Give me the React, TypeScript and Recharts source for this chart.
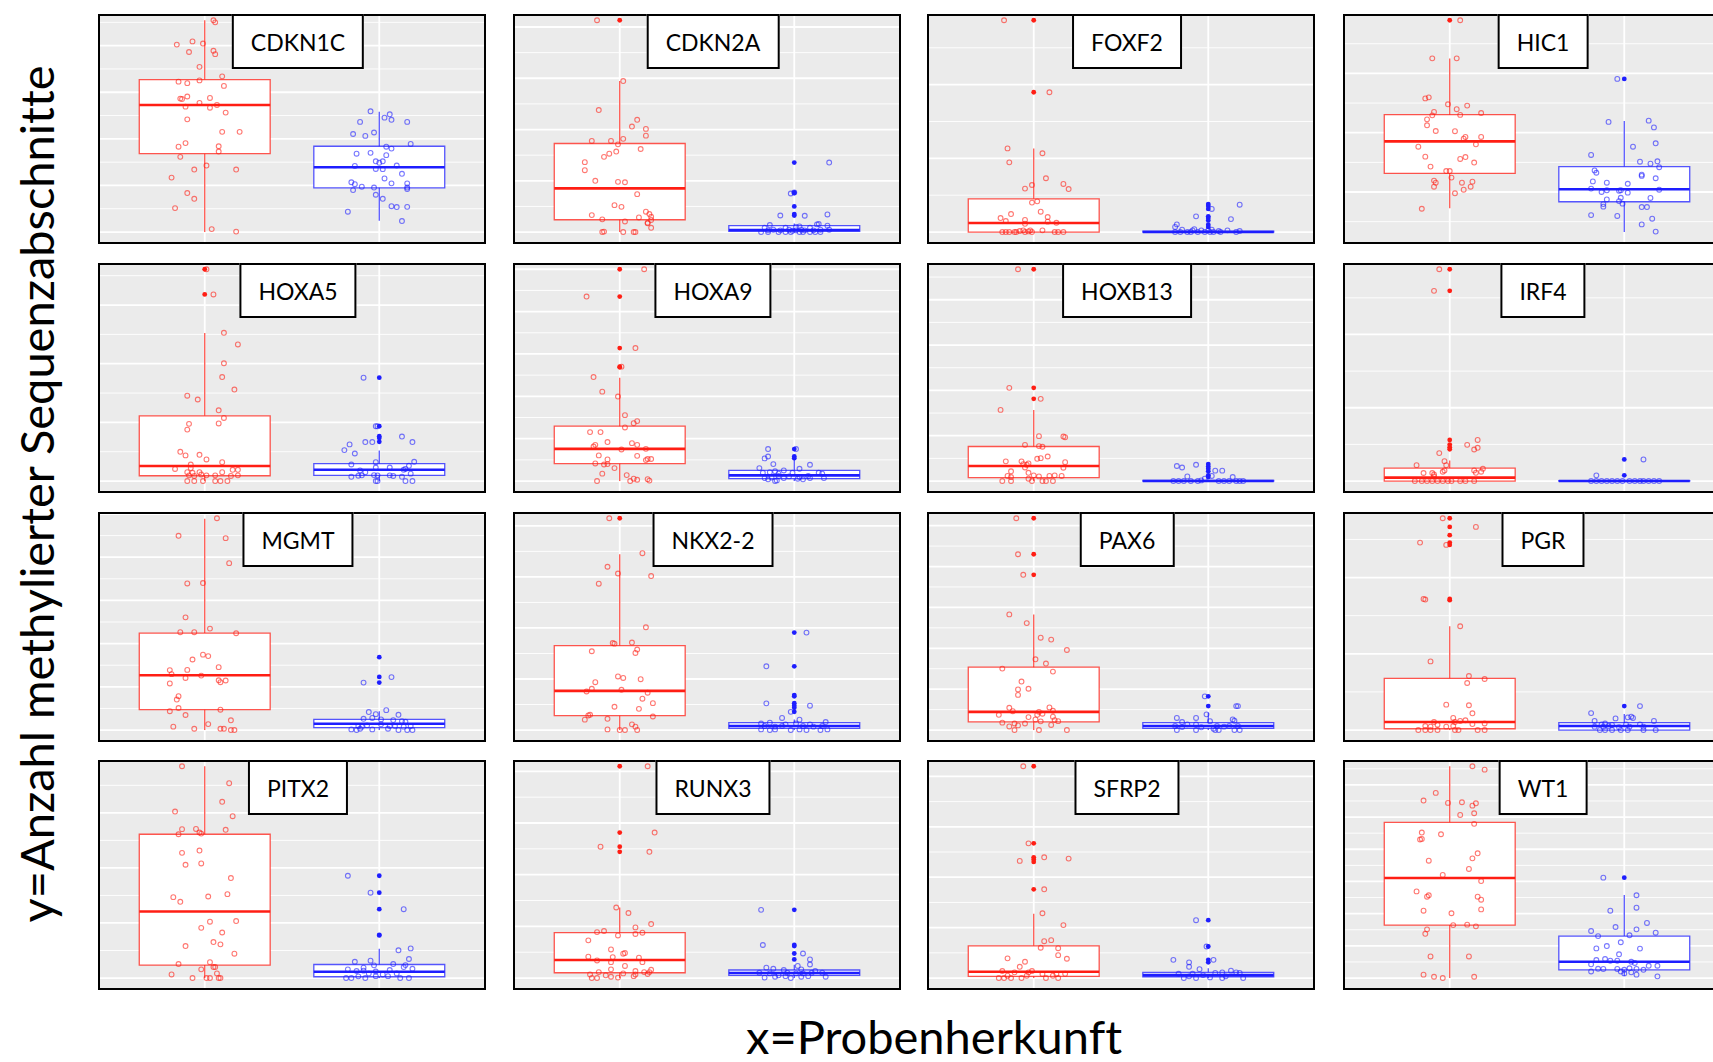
import {
  ComposedChart,
  XAxis,
  YAxis,
  CartesianGrid,
  Scatter,
  ReferenceArea,
  ReferenceLine,
} from 'recharts'

// [jitter offset in 1/100 of a category, value on the panel's own 0..100 scale]
type Pt = [number, number]
// [lower whisker, q1, median, q3, upper whisker]
type Box = [number, number, number, number, number]

const cdkn1cRed: Pt[] = [[5,100],[6,99],[-16,88.5],[-7,90],[-1,89],[-9,85],[5,85.6],[6,84],[-3,78],[10,73.5],[-15,71],[-10,70.3],[-3,71.6],[11,69],[-14,63],[-13,62.8],[-10,64],[-3,61],[3,63.3],[7,60],[3,58.7],[-11,59.2],[12,56.4],[-10,53.2],[10,47.3],[20,47.3],[-15,40.3],[-11,42],[8,40.5],[8,38],[-14,35.5],[1,31.4],[-6,29.5],[18,29.5],[-19,25.7],[-10,18.4],[-6,15.7],[-17,11.3],[4,1.4],[18,0.2]]
const cdkn1cBlue: Pt[] = [[-5,57],[3,54],[6,55.6],[7,53],[-11,52],[16,52],[-15,46.3],[-8,45.4],[-3,47],[18,41.6],[4,40.3],[7,39.4],[-13,37],[-5,37.4],[4,36.3],[-2,33.4],[0,32.7],[2,33.4],[-14,31.2],[10,31.4],[-2,29.8],[2,29.7],[13,27.5],[3,25.3],[-16,23.5],[-14,22.6],[7,23],[16,23],[-10,21.4],[-3,21],[-15,19.8],[16,21],[16,20.3],[-2,17.6],[2,15.7],[7,12.2],[10,11.8],[16,11.9],[-18,9.6],[13,5.2]]
const cdkn1cBox: Box[] = [[0,37,60,72,100],[5.3,20.9,30.6,40.5,56.8]]
const cdkn1cOut: number[][] = [[],[]]
const cdkn1cGrid = [0, 22]

const cdkn2aRed: Pt[] = [[-13,100],[2,71.3],[-12,57.6],[10,53],[7,49.8],[15,48.7],[15,45.5],[-16,43],[-5,43],[2,44],[-1,41.4],[12,39.2],[-2,38],[-6,37],[-9,35.5],[-20,33],[-20,29.2],[-14,24.2],[-1,23.7],[3,23.5],[10,17.9],[-3,12.7],[1,11.9],[15,9.6],[17,8.5],[18,7.2],[-16,8],[11,6.9],[-10,6],[18,5.7],[3,5],[16,4.4],[16,4.1],[18,2],[-9,0.2],[-10,0],[2,0],[8,0],[9,0]]
const cdkn2aBlue: Pt[] = [[20,32.8],[-2,18.2],[0,18.7],[-8,7.8],[6,7.7],[19,8.3],[-14,3.3],[13,3.6],[14,3.8],[19,3],[-17,2],[-5,2],[1,2.4],[3,2.7],[9,2],[-15,0.8],[-12,1.1],[-8,0.8],[-3,1.1],[-1,0.6],[1,0.8],[4,1.1],[6,0.8],[11,0.8],[15,1.1],[20,1.1],[-19,0],[-15,0],[-9,0],[-5,0],[-2,0],[3,0],[5,0],[9,0],[12,0],[15,0]]
const cdkn2aBox: Box[] = [[0,5.8,20.6,41.8,71.3],[0,0.3,1,3,4]]
const cdkn2aOut: number[][] = [[100],[32.8,18.7,18.4,12.1,8.5,7.8]]
const cdkn2aGrid = [0, 24.2]

const foxf2Red: Pt[] = [[-17,100],[9,66],[-15,39.5],[5,37.2],[-14,32.9],[7,25.4],[-1,22.2],[-5,20.5],[17,22.7],[20,20.3],[2,14.5],[-1,13.9],[4,9.6],[-13,8.5],[-19,6.6],[-16,5.2],[-5,5.7],[8,7.1],[-5,3.9],[8,4.9],[13,4.4],[5,0.8],[-18,0],[-16,0],[-14,0],[-11,0],[-10,0],[-8,0.5],[-6,0.8],[-5,0],[-3,0.3],[-2,0.8],[12,0],[14,0],[17,0],[-1,0]]
const foxf2Blue: Pt[] = [[18,12.9],[2,10.9],[-7,7.4],[13,6.1],[-18,3.6],[-19,2.4],[-15,1.1],[-8,1.4],[-9,0.8],[-4,0.8],[0,0.8],[2,1.1],[6,0.5],[11,0.8],[18,0.5],[-19,0],[-16,0],[-12,0],[-10,0],[-6,0],[-2,0],[1,0],[3,0],[7,0],[16,0]]
const foxf2Box: Box[] = [[0,0,4.3,15.7,39.4],[0,0,0,0.4,0.4]]
const foxf2Out: number[][] = [[100,66],[13.2,12.3,10.9,7.4,6.6,5.5,3.5,2.4]]
const foxf2Grid = [0, 34.8]

const hic1Red: Pt[] = [[6,100],[-10,82],[4,82],[-14,63.1],[-12,63.6],[-1,60.3],[4,58],[10,59.7],[-9,56.7],[-10,55.1],[-13,53.2],[18,56.2],[6,55.3],[-13,50.4],[-8,47.7],[3,47.6],[9,44.9],[8,44.1],[18,44.9],[-18,40.3],[15,41.4],[-14,35.6],[9,35.4],[6,34.5],[14,32.8],[-11,30.9],[-2,28.8],[0,28.8],[1,25.7],[-9,24.3],[-8,23.3],[7,23.3],[13,23.8],[-9,21.4],[12,21.4],[8,20],[3,18.3],[-16,11]]
const hic1Blue: Pt[] = [[-4,72.3],[-9,52],[14,52.6],[17,49.4],[5,40.3],[18,41.9],[-19,36.4],[9,33.2],[15,32.3],[19,33.4],[20,30.6],[-17,29.1],[-16,28],[10,27.1],[10,26.5],[18,25.4],[-18,23.9],[-10,23.3],[2,22.8],[-19,20.5],[-13,18.9],[-10,19.7],[-3,19.5],[-2,19.7],[2,18.6],[20,20],[-10,15.4],[-2,16.2],[-3,14.6],[-1,13.4],[-12,13.2],[-12,12],[15,16.1],[10,11.8],[13,11.8],[-19,8],[-4,7.6],[16,6.3],[10,3.6],[18,0.2]]
const hic1Box: Box[] = [[11.2,27.7,42.8,55.4,81.9],[0,14.3,20.2,30.9,52.4]]
const hic1Out: number[][] = [[100],[72.3]]
const hic1Grid = [18.9, 28]

const hoxa5Red: Pt[] = [[1,100],[5,88.1],[11,70],[19,64.5],[11,55.6],[10,49.1],[17,43.2],[-10,40.3],[-4,38.5],[8,33.4],[11,29.8],[-9,27],[8,27.2],[-10,24.3],[-14,13.8],[-11,12.1],[-3,12.4],[1,10.2],[10,8.9],[-8,7.8],[-17,5.7],[-8,6.1],[16,5.3],[19,5.3],[-10,4.2],[-7,3.9],[-3,4.2],[-2,3.1],[10,4.2],[-9,2.7],[-6,2.4],[1,2.7],[6,2.7],[15,2.4],[19,2.7],[-10,0],[-6,0],[-1,0],[6,0],[9,0],[13,0]]
const hoxa5Blue: Pt[] = [[-9,48.8],[-2,25.9],[-1,25.9],[13,21],[19,18.4],[-8,18.4],[-4,18.4],[-17,17.3],[-20,14.6],[-14,13],[-2,8.9],[20,9.1],[-16,7.8],[17,7.2],[15,5.7],[6,6.4],[-2,6.4],[14,5.3],[-11,5],[-8,4.2],[-10,2.7],[-3,2.8],[-1,2.7],[6,2.7],[-16,2],[-12,2.5],[8,2.4],[13,2],[18,3.5],[-2,0],[-1,0],[15,0],[19,0]]
const hoxa5Box: Box[] = [[0,2.5,7.1,30.8,69.9],[0,2.7,5.3,8.2,14.4]]
const hoxa5Out: number[][] = [[100,88.1],[48.8,25.9,21.2,20.3,18.5]]
const hoxa5Grid = [0, 27.7]

const hoxa9Red: Pt[] = [[14,100],[-19,87.1],[9,62.8],[1,54],[-15,49.1],[-10,42.2],[-1,39.9],[3,31.1],[10,28.3],[8,27.3],[3,25.3],[-17,23.1],[-11,23.1],[-14,17.1],[-7,18.4],[7,17.9],[10,17.1],[-15,16.3],[1,14.9],[15,15.2],[-12,12.1],[10,11.9],[16,10.4],[18,10.4],[15,9.9],[-7,10.2],[-14,8.3],[-9,7.8],[-7,8],[-3,6.1],[-10,3.5],[4,2.8],[8,1.1],[10,0.6],[16,0.9],[17,0.2],[-13,0],[6,0]]
const hoxa9Blue: Pt[] = [[-15,15.1],[1,15.1],[-17,10.7],[-15,11.6],[-12,8],[9,7.7],[-20,6.1],[-11,4.6],[-6,5],[3,5.8],[-18,3.9],[-14,4.2],[-9,3.5],[-1,3.9],[14,3.9],[16,3.5],[-17,1.4],[-13,1.7],[-9,2.4],[-3,2.2],[3,1.9],[8,2.4],[-15,0.8],[-10,0.3],[-6,1.4],[2,1.1],[5,0.8],[9,1.4],[17,1.4],[-11,0]]
const hoxa9Box: Box[] = [[0,8.2,15.2,25.9,48.8],[0,1.1,2.7,5,10.5]]
const hoxa9Out: number[][] = [[100,87.1,62.8,54,53.7],[15.1,11.6,10.8]]
const hoxa9Grid = [0, 20]

const hoxb13Red: Pt[] = [[-9,100],[-14,44],[4,38.8],[-19,33.6],[3,21.2],[17,21],[18,20.7],[-5,17.1],[3,16.5],[5,16.2],[8,11.6],[2,10.5],[4,10.8],[-16,9.3],[-7,9.3],[18,8.9],[-6,8],[-4,7.7],[-3,8.3],[-5,6.4],[17,6.3],[-13,4.6],[-3,3.9],[-15,2.4],[-13,1.9],[0,2.7],[3,2.2],[9,2.4],[12,2.7],[16,2.4],[-18,0],[-13,0],[-3,1.1],[-1,0],[5,0],[7,0],[11,0]]
const hoxb13Blue: Pt[] = [[-18,7.1],[-15,6.4],[-7,7.7],[4,4.9],[8,4.9],[-12,2.2],[2,2.4],[14,1.9],[-20,0],[-17,0],[-14,0],[-10,0],[-6,0],[-4,0.3],[-2,1.1],[6,0],[9,0],[12,0],[16,0],[18,0],[20,0]]
const hoxb13Box: Box[] = [[0,1.6,7.1,16.3,33.6],[0,0,0,0.3,0.3]]
const hoxb13Out: number[][] = [[100,44,38.8],[8,6.9,5.8,4.6,2.7,1.9]]
const hoxb13Grid = [0, 21.4]

const irf4Red: Pt[] = [[-6,100],[-9,89.8],[16,19.4],[10,17.1],[14,14.9],[16,15.7],[-6,13.2],[-19,7.5],[-3,9.4],[-2,7.5],[14,5],[19,5.8],[18,4.4],[15,3.9],[-15,3.8],[-10,3.8],[-9,3.1],[-4,4.4],[-3,5],[-20,0],[-16,0],[-13,0],[-10,0],[-7,0],[-4,0],[-1,0],[1,0],[6,0],[9,0],[14,0],[-9,2.2]]
const irf4Blue: Pt[] = [[11,10.2],[-16,2.7],[-19,0],[-16,0],[-13,0],[-10,0],[-7,0],[-4,0],[-1,0],[3,0],[6,0],[9,0],[11,0],[14,0],[17,0],[20,0]]
const irf4Box: Box[] = [[0,0,1.6,6.1,9.7],[0,0,0,0.2,0.2]]
const irf4Out: number[][] = [[100,89.8,19.4,17.2,16,15],[10.2,2.7]]
const irf4Grid = [0, 34.6]

const mgmtRed: Pt[] = [[7,100],[-15,91.7],[12,90.6],[14,78.8],[-10,69.2],[-1,69.4],[-11,53.2],[-14,46.2],[-6,46.2],[3,47.9],[18,45.7],[-1,35.6],[2,34.9],[-7,33.3],[8,29.7],[-20,28.3],[-10,28.4],[-19,26.4],[-2,25.7],[-11,24.6],[8,23.5],[9,22.6],[12,23.4],[-20,22],[-15,16],[-16,14.4],[-15,10.4],[-20,8.9],[9,9.6],[-11,7.1],[15,4.6],[2,2.8],[-18,1.6],[-6,0.6],[9,0.6],[11,0.6],[15,0],[17,0]]
const mgmtBlue: Pt[] = [[7,25],[-9,22.4],[4,9.4],[-6,8.5],[-2,7.5],[11,7.2],[-9,5.3],[-4,5.7],[1,5],[8,4.7],[13,4.2],[15,3.9],[-12,1.9],[-10,1.6],[-7,2.2],[1,2.7],[6,1.9],[9,1.9],[14,1.6],[18,1.9],[-16,0.3],[-13,0],[-11,0.6],[-4,0.3],[5,0.6],[11,0],[16,0],[19,0]]
const mgmtBox: Box[] = [[0,9.6,25.9,45.8,99.7],[0,1.1,3,5,8.9]]
const mgmtOut: number[][] = [[],[34.4,25.1,22.4]]
const mgmtGrid = [0, 20.4]

const nkx22Red: Pt[] = [[-6,100],[13,83.5],[-7,77.1],[-1,73.9],[18,72.7],[-12,69.1],[15,48.5],[-3,40.8],[-4,41.1],[7,41.3],[10,38],[-16,37.2],[9,36.4],[-1,25.3],[2,24.6],[12,24],[-14,22.6],[-16,19.5],[1,19],[-19,18.2],[16,17.6],[13,14.8],[19,12.7],[-3,11],[11,10],[-17,7.2],[-18,6.9],[19,6.4],[-7,5.3],[-20,4.9],[7,2.7],[9,1.6],[-7,0.3],[0,0],[3,0],[10,0]]
const nkx22Blue: Pt[] = [[7,46],[-16,30.1],[-16,12.6],[9,11.5],[-2,8.6],[-7,5.7],[3,4.9],[-19,3.1],[-14,3.5],[-5,2.7],[1,3.1],[9,2.7],[18,3.8],[-17,1.9],[-11,1.6],[-7,1.9],[5,1.9],[11,1.6],[16,1.9],[-19,0.3],[-14,0],[-11,0.3],[-2,0],[3,0.3],[7,0],[15,0],[19,0.3]]
const nkx22Box: Box[] = [[0,6.8,18.5,39.9,83],[0,0.8,1.9,3.5,5]]
const nkx22Out: number[][] = [[100],[46,30.1,16.5,15.9,12.7,11.5,10.5,8.6]]
const nkx22Grid = [0, 24.1]

const pax6Red: Pt[] = [[-10,100],[-9,83],[-6,73.3],[-14,54.6],[-4,50.5],[4,43.6],[10,42.7],[19,37.8],[1,33.4],[7,31.4],[-18,29],[11,27.6],[-7,22.9],[-9,19.2],[-3,19.5],[-9,16.6],[-14,10.5],[-12,8.9],[9,10.7],[11,9.1],[3,8.6],[5,7.7],[-20,7.2],[-3,6.1],[2,7.2],[1,5],[11,6.3],[12,4.7],[14,4.2],[4,4.1],[-18,3.5],[-11,3.1],[-5,3.1],[-14,1.7],[-9,2.2],[10,2.4],[-11,0],[3,0],[19,0]]
const pax6Blue: Pt[] = [[-2,15.9],[16,11.3],[17,11.3],[-1,7.4],[-18,5.7],[-7,5.7],[14,5],[15,4.4],[-15,3.8],[-12,2.7],[-7,2.7],[1,4.2],[5,1.9],[9,1.6],[12,1.9],[17,1.9],[-19,1.9],[-15,1.4],[-4,1.3],[3,0.6],[-18,0],[-7,0],[4,0],[6,0],[15,0],[18,0]]
const pax6Box: Box[] = [[0,3.9,8.6,29.7,54.5],[0,0.8,1.9,3.5,8.2]]
const pax6Out: number[][] = [[100,83,73.3],[15.9,11.3]]
const pax6Grid = [0, 19.3]

const pgrRed: Pt[] = [[-4,100],[15,95.9],[-17,88.5],[-2,87.4],[-15,61.9],[-14,61.6],[6,49],[-11,32.4],[11,25.5],[20,24.1],[10,22.2],[-2,12],[11,11.7],[13,7.9],[2,5.7],[9,4.6],[-9,3.8],[3,3.8],[6,4.3],[13,2.8],[20,3.1],[-14,1.9],[-11,1.6],[-7,2.5],[-2,1.6],[2,1.9],[-18,0],[-14,0],[-11,0],[-7,0],[3,0],[5,0],[16,0],[20,0]]
const pgrBlue: Pt[] = [[9,11.3],[-19,8],[-5,5.5],[2,6],[4,6.3],[5,5.7],[17,4.3],[-17,4.3],[-13,2.7],[-11,3.1],[-7,2.4],[1,2.7],[9,2.7],[-17,1.6],[-12,1.6],[-9,1.9],[-3,1.3],[3,1.6],[11,1.6],[-14,0],[-11,0],[-7,0],[-2,0],[2,0],[11,0],[18,0]]
const pgrBox: Box[] = [[0,0.6,3.8,24.4,49],[0,0,1.9,3.5,7.6]]
const pgrOut: number[][] = [[100,95.9,92,88.5,87.4,61.9,61.3],[11.3]]
const pgrGrid = [0, 36]

const pitx2Red: Pt[] = [[-13,100],[14,92],[10,83.2],[-17,78.6],[16,76.4],[-5,70.4],[-13,70.3],[12,70],[-3,68.7],[-2,68.2],[-15,67.9],[-3,60.2],[-13,59.1],[-2,54.1],[-11,53.5],[15,47.2],[-18,38.2],[2,38.5],[-14,36],[13,39.6],[3,26.6],[18,26.9],[-2,23.7],[10,21.5],[5,17],[9,15.9],[-11,15.1],[17,11.5],[3,7.5],[-15,6.6],[5,5.2],[6,5.2],[-2,4.1],[7,2.2],[-19,1.7],[-7,0],[1,0],[3,0],[8,0],[9,0]]
const pitx2Blue: Pt[] = [[-18,48.3],[-5,40.3],[14,32.5],[18,14],[11,13.1],[17,9],[-14,7.7],[-5,8.2],[8,6.6],[15,6.1],[-3,6],[-9,4.9],[-18,4.1],[-13,3.3],[-9,3.5],[-2,3.1],[6,3.8],[14,5.2],[-6,2.2],[2,1.7],[10,2.2],[19,4.4],[-12,0.8],[-16,0],[-8,0],[-2,0.9],[5,0.9],[12,0],[17,0],[-19,0]]
const pitx2Box: Box[] = [[0,6.1,31.4,67.9,100],[0,0.6,3,6.4,13.8]]
const pitx2Out: number[][] = [[],[48.3,40.3,32.5,20.4,20.1]]
const pitx2Grid = [0, 26]

const runx3Red: Pt[] = [[16,100],[20,68.7],[-11,62],[17,59.6],[-2,33.3],[5,30.7],[18,25.5],[9,23.9],[-13,21.7],[-9,22.2],[-1,20.1],[9,20.8],[13,21.4],[-18,17.8],[-5,13.5],[3,11.8],[2,11.5],[-18,10.1],[-4,9.9],[11,9.6],[-13,8.3],[-5,7.5],[13,7.5],[3,5.7],[-5,4.1],[18,3.9],[9,3.3],[14,2.8],[-17,1.7],[-12,2.8],[-8,1.3],[2,2.2],[9,1.7],[17,2.8],[-16,0],[-13,0],[-5,0.6],[-1,0.2],[8,0.9],[16,1.9]]
const runx3Blue: Pt[] = [[-19,32.2],[-18,15.6],[5,11.6],[9,8.8],[9,6.4],[-16,4.9],[-12,4.4],[-6,3.8],[2,5.7],[4,4.1],[12,3.3],[-20,2.5],[-14,2.2],[-9,1.3],[-4,2.5],[1,2.2],[5,2.2],[10,2.5],[16,2.5],[-17,0.2],[-11,0.6],[-5,0.9],[-2,0],[4,0.6],[8,0.9],[18,0.6]]
const runx3Box: Box[] = [[0,2.5,8.5,21.4,33.3],[0,1.3,2.4,3.8,6.3]]
const runx3Out: number[][] = [[100,68.7,62,59.6],[32.2,15.6,15.1,11.6,8.8]]
const runx3Grid = [0, 24.4]

const sfrp2Red: Pt[] = [[-6,100],[-3,63.6],[-8,55.3],[6,57],[20,56.4],[6,41.9],[5,30.6],[17,25],[6,17.4],[10,17.9],[4,14.3],[14,14.1],[14,10.8],[-15,9.3],[-5,7.7],[19,9.1],[-8,5.3],[-18,3.3],[-11,2.7],[-3,2.7],[-1,3.3],[5,1.9],[13,1.9],[18,2],[-20,0],[-17,0],[-15,1.1],[-13,0],[-7,0],[-4,1.1],[7,0],[11,1.1],[14,0]]
const sfrp2Blue: Pt[] = [[-7,27.3],[-1,14.9],[3,8.6],[-20,8.6],[-11,7.4],[-11,5.3],[-5,4.2],[-17,2],[-9,2],[-3,1.4],[4,2.4],[8,2.7],[13,3.5],[16,2.7],[18,2.4],[-14,0],[-11,0.8],[-7,0],[1,0.3],[8,0],[10,0.8],[20,0]]
const sfrp2Box: Box[] = [[0,0.8,3,15.2,30.3],[0,0.6,1.4,2.7,4.6]]
const sfrp2Out: number[][] = [[100,63.6,57,56,54.8,41.9],[27.3,14.9,8.6,7.4]]
const sfrp2Grid = [0, 23.8]

const wt1Red: Pt[] = [[13,100],[20,98.4],[-8,87.4],[-15,83.8],[-1,82.7],[7,83],[13,81.4],[15,82.5],[6,77],[14,77.8],[14,72.8],[-16,68.7],[-5,67.9],[-17,65.4],[-16,65.7],[16,58.9],[-12,55.4],[13,56.5],[11,51.5],[-4,48.7],[18,45.8],[-19,40.9],[-13,38.4],[-12,39.1],[16,38.4],[18,37],[-15,31.8],[1,30.6],[18,32.4],[2,25],[10,25.2],[15,24.4],[-13,23],[-14,20.9],[-11,10.2],[11,10.2],[-15,1.6],[-9,0.6],[-4,0],[14,0.6]]
const wt1Blue: Pt[] = [[-12,47.4],[7,39.1],[7,33.2],[-8,31.8],[13,26],[-5,24.1],[-19,22.2],[7,23],[18,21.4],[-15,19.8],[3,20.2],[-2,16.9],[-16,14],[-10,15.1],[9,13.9],[-3,11.2],[-11,9],[-16,8.5],[-8,8.2],[-4,8.2],[4,7.7],[6,7.1],[-19,6.5],[14,5.8],[19,5.8],[-15,4.4],[-12,4.3],[-4,4.3],[0,3.9],[3,4.6],[7,4.3],[11,3.9],[-19,3.1],[-2,3.1],[7,1.6],[19,0.8],[0,2.2],[4,2.7]]
const wt1Box: Box[] = [[0,25,47.2,73.5,100],[0.8,3.9,7.7,19.8,39.2]]
const wt1Out: number[][] = [[],[47.4]]
const wt1Grid = [0, 15.2]

const PANELS = [
  { gene: 'CDKN1C', red: cdkn1cRed, blue: cdkn1cBlue, box: cdkn1cBox, out: cdkn1cOut, grid: cdkn1cGrid },
  { gene: 'CDKN2A', red: cdkn2aRed, blue: cdkn2aBlue, box: cdkn2aBox, out: cdkn2aOut, grid: cdkn2aGrid },
  { gene: 'FOXF2', red: foxf2Red, blue: foxf2Blue, box: foxf2Box, out: foxf2Out, grid: foxf2Grid },
  { gene: 'HIC1', red: hic1Red, blue: hic1Blue, box: hic1Box, out: hic1Out, grid: hic1Grid },
  { gene: 'HOXA5', red: hoxa5Red, blue: hoxa5Blue, box: hoxa5Box, out: hoxa5Out, grid: hoxa5Grid },
  { gene: 'HOXA9', red: hoxa9Red, blue: hoxa9Blue, box: hoxa9Box, out: hoxa9Out, grid: hoxa9Grid },
  { gene: 'HOXB13', red: hoxb13Red, blue: hoxb13Blue, box: hoxb13Box, out: hoxb13Out, grid: hoxb13Grid },
  { gene: 'IRF4', red: irf4Red, blue: irf4Blue, box: irf4Box, out: irf4Out, grid: irf4Grid },
  { gene: 'MGMT', red: mgmtRed, blue: mgmtBlue, box: mgmtBox, out: mgmtOut, grid: mgmtGrid },
  { gene: 'NKX2-2', red: nkx22Red, blue: nkx22Blue, box: nkx22Box, out: nkx22Out, grid: nkx22Grid },
  { gene: 'PAX6', red: pax6Red, blue: pax6Blue, box: pax6Box, out: pax6Out, grid: pax6Grid },
  { gene: 'PGR', red: pgrRed, blue: pgrBlue, box: pgrBox, out: pgrOut, grid: pgrGrid },
  { gene: 'PITX2', red: pitx2Red, blue: pitx2Blue, box: pitx2Box, out: pitx2Out, grid: pitx2Grid },
  { gene: 'RUNX3', red: runx3Red, blue: runx3Blue, box: runx3Box, out: runx3Out, grid: runx3Grid },
  { gene: 'SFRP2', red: sfrp2Red, blue: sfrp2Blue, box: sfrp2Box, out: sfrp2Out, grid: sfrp2Grid },
  { gene: 'WT1', red: wt1Red, blue: wt1Blue, box: wt1Box, out: wt1Out, grid: wt1Grid },
]

const COL_X = [98, 513, 927, 1343]
const ROW_Y = [14, 263, 512, 760]
const PW = 388
const PH = 230
const Y_MIN = -4.7
const Y_MAX = 102
const FONT = 'Lato, "Open Sans", sans-serif'

const RED = '#FF1E14'
const BLUE = '#1E1EFF'
const COLORS = [RED, BLUE]

const ring = (color: string) => (p: any) =>
  <circle cx={p.cx} cy={p.cy} r={2.4} fill="none" stroke={color} strokeOpacity={0.6} strokeWidth={1.1} />
const dot = (color: string) => (p: any) =>
  <circle cx={p.cx} cy={p.cy} r={2.4} fill={color} stroke="none" />

function boxMarks(b: Box, cx: number, color: string, key: string) {
  const [lo, q1, med, q3, hi] = b
  const hw = 0.375
  const line = { stroke: color, strokeOpacity: 0.75, strokeWidth: 1.3, ifOverflow: 'visible' as const }
  return [
    <ReferenceLine key={key + 'hi'} segment={[{ x: cx, y: q3 }, { x: cx, y: hi }]} {...line} />,
    <ReferenceLine key={key + 'lo'} segment={[{ x: cx, y: lo }, { x: cx, y: q1 }]} {...line} />,
    <ReferenceArea key={key + 'box'} x1={cx - hw} x2={cx + hw} y1={q1} y2={q3} fill="#ffffff" fillOpacity={1} {...line} />,
    <ReferenceLine key={key + 'med'} segment={[{ x: cx - hw, y: med }, { x: cx + hw, y: med }]} stroke={color} strokeWidth={2.6} ifOverflow="visible" />,
  ]
}

function Panel({ p, left, top }: { p: (typeof PANELS)[number]; left: number; top: number }) {
  const [base, step] = p.grid
  const major: number[] = []
  const minor: number[] = []
  for (let k = -20; k <= 20; k++) {
    const v = base + (k * step) / 2
    if (v < Y_MIN || v > Y_MAX) continue
    if (k % 2 === 0) major.push(v)
    else minor.push(v)
  }
  const groups = [p.red, p.blue]

  return (
    <div
      style={{
        position: 'absolute', left, top, width: PW, height: PH,
        border: '2px solid #000', boxSizing: 'border-box', background: '#EBEBEB',
      }}
    >
      <ComposedChart width={PW - 4} height={PH - 4} margin={{ top: 0, right: 0, bottom: 0, left: 0 }}>
        <XAxis type="number" dataKey="x" domain={[0.4, 2.6]} hide />
        <YAxis type="number" dataKey="y" domain={[Y_MIN, Y_MAX]} hide allowDataOverflow />
        <CartesianGrid horizontalValues={minor} vertical={false} stroke="#ffffff" strokeWidth={0.9} />
        <CartesianGrid horizontalValues={major} verticalValues={[1, 2]} stroke="#ffffff" strokeWidth={1.8} />
        {p.box.flatMap((b, i) => boxMarks(b, i + 1, COLORS[i], p.gene + i))}
        {p.out.map((vals, i) => (
          <Scatter
            key={'o' + i}
            data={vals.map((y) => ({ x: i + 1, y }))}
            shape={dot(COLORS[i])}
            isAnimationActive={false}
          />
        ))}
        {groups.map((pts, i) => (
          <Scatter
            key={'j' + i}
            data={pts.map(([dx, y]) => ({ x: i + 1 + dx / 100, y }))}
            shape={ring(COLORS[i])}
            isAnimationActive={false}
          />
        ))}
      </ComposedChart>
      <div
        style={{
          position: 'absolute', left: 198, top: -2, height: 55, transform: 'translateX(-50%)',
          border: '2px solid #000', boxSizing: 'border-box', background: '#fff',
          padding: '0 17px', display: 'flex', alignItems: 'center', whiteSpace: 'nowrap',
          fontFamily: FONT, fontSize: 23, color: '#000',
        }}
      >
        {p.gene}
      </div>
    </div>
  )
}

export default function App() {
  return (
    <div
      style={{
        position: 'fixed', left: 0, top: 0, width: 1713, height: 1062,
        overflow: 'hidden', background: '#fff', fontFamily: FONT, fontVariantLigatures: 'none',
      }}
    >
      {PANELS.map((p, i) => (
        <Panel key={p.gene} p={p} left={COL_X[i % 4]} top={ROW_Y[Math.floor(i / 4)]} />
      ))}
      <div
        style={{
          position: 'absolute', left: 36, top: 494, transform: 'translate(-50%, -50%) rotate(-90deg)',
          fontSize: 47, lineHeight: 1, whiteSpace: 'nowrap', color: '#000',
        }}
      >
        y=Anzahl methylierter Sequenzabschnitte
      </div>
      <div
        style={{
          position: 'absolute', left: 934, top: 1036, transform: 'translate(-50%, -50%)',
          fontSize: 47, lineHeight: 1, whiteSpace: 'nowrap', color: '#000',
        }}
      >
        x=Probenherkunft
      </div>
    </div>
  )
}
